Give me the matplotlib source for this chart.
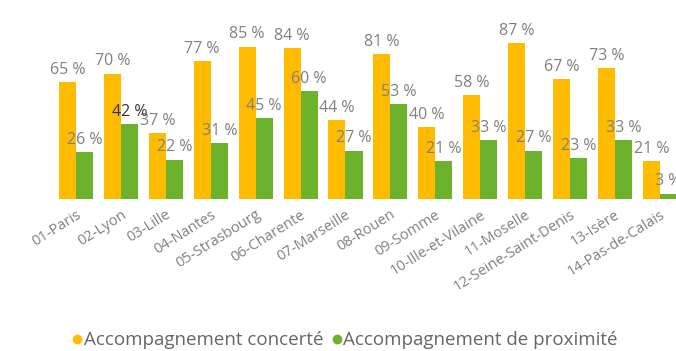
import matplotlib
matplotlib.use("Agg")
import matplotlib.pyplot as plt
from matplotlib.lines import Line2D
import numpy as np

plt.rcParams['font.family'] = ['Open Sans', 'DejaVu Sans']

departements = ['01-Paris', '02-Lyon', '03-Lille', '04-Nantes', '05-Strasbourg',
                '06-Charente', '07-Marseille', '08-Rouen', '09-Somme',
                '10-Ille-et-Vilaine', '11-Moselle', '12-Seine-Saint-Denis',
                '13-Isère', '14-Pas-de-Calais']
concerte = [65, 70, 37, 77, 85, 84, 44, 81, 40, 58, 87, 67, 73, 21]
proximite = [26, 42, 22, 31, 45, 60, 27, 53, 21, 33, 27, 23, 33, 3]
series_names = ['Accompagnement concerté', 'Accompagnement de proximité']

orange = '#FFBB00'
green = '#6CB22C'
grey = '#808080'

fig = plt.figure(figsize=(6.76, 3.51), dpi=100)
ax = fig.add_axes([0.0793, 0.433, 0.93, 0.567])

x = np.arange(len(departements))
w = 0.38
b1 = ax.bar(x - w / 2, concerte, w, color=orange)
b2 = ax.bar(x + w / 2, proximite, w, color=green)

for bars, vals in ((b1, concerte), (b2, proximite)):
    for rect, v in zip(bars, vals):
        col = grey
        if bars is b2 and v == 42:
            col = '#333333'
        ax.annotate(f'{v} %', (rect.get_x() + rect.get_width() / 2, v),
                    xytext=(0, 3), textcoords='offset points',
                    ha='center', va='bottom', fontsize=11.5, color=col)

ax.set_xlim(-0.5, 13.5)
ax.set_ylim(0, 111)
ax.set_yticks([])
ax.set_xticks(x)
ax.set_xticklabels(departements, rotation=32, ha='right', rotation_mode='anchor',
                   fontsize=10.5, color=grey)
ax.tick_params(axis='x', length=0, pad=6)
for s in ax.spines.values():
    s.set_visible(False)

handles = [Line2D([], [], marker='o', ls='', color=orange, markersize=6),
           Line2D([], [], marker='o', ls='', color=green, markersize=6)]
fig.legend(handles, series_names, loc='center', bbox_to_anchor=(0.51, 0.03),
           ncol=2, frameon=False, fontsize=13.5, handletextpad=0.05,
           columnspacing=0.4, handlelength=0.6, labelcolor='#666666')

fig.savefig('out.png', dpi=100)
